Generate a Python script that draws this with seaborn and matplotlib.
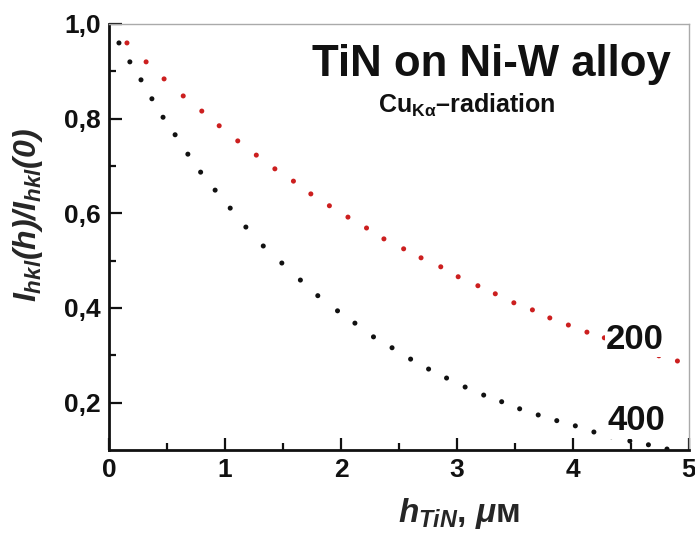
import numpy as np
import pandas as pd
import matplotlib
matplotlib.use("Agg")
import matplotlib.pyplot as plt
import seaborn as sns

# Relative intensity of TiN reflections versus coating thickness
h_200 = [0.155, 0.32, 0.475, 0.64, 0.80, 0.95, 1.11, 1.27, 1.43, 1.59, 1.74, 1.90,
         2.06, 2.22, 2.37, 2.54, 2.69, 2.86, 3.01, 3.18, 3.33, 3.49, 3.65, 3.80,
         3.96, 4.12, 4.27, 4.43, 4.59, 4.74, 4.90]
i_200 = [0.960, 0.920, 0.884, 0.848, 0.816, 0.785, 0.753, 0.723, 0.694, 0.668, 0.641, 0.616,
         0.592, 0.569, 0.546, 0.525, 0.506, 0.487, 0.466, 0.447, 0.430, 0.411, 0.396, 0.379,
         0.364, 0.349, 0.337, 0.324, 0.311, 0.299, 0.288]

h_400 = [0.086, 0.18, 0.276, 0.37, 0.466, 0.57, 0.68, 0.79, 0.915, 1.045, 1.18, 1.33,
         1.49, 1.65, 1.80, 1.97, 2.12, 2.28, 2.44, 2.60, 2.755, 2.91, 3.07, 3.23,
         3.385, 3.54, 3.70, 3.86, 4.02, 4.18, 4.33, 4.49, 4.65, 4.81]
i_400 = [0.960, 0.920, 0.882, 0.842, 0.803, 0.766, 0.725, 0.687, 0.649, 0.611, 0.571, 0.531,
         0.495, 0.459, 0.426, 0.394, 0.368, 0.339, 0.316, 0.292, 0.271, 0.252, 0.233, 0.216,
         0.202, 0.187, 0.174, 0.162, 0.151, 0.138, 0.128, 0.119, 0.111, 0.102]

x_ticks = [0, 1, 2, 3, 4, 5]
y_ticks = [0.2, 0.4, 0.6, 0.8, 1.0]
y_ticklabels = ["0,2", "0,4", "0,6", "0,8", "1,0"]

df = pd.concat([
    pd.DataFrame({"h": h_200, "I": i_200, "hkl": "200"}),
    pd.DataFrame({"h": h_400, "I": i_400, "hkl": "400"}),
])

sns.set_theme(style="white")
plt.rcParams["font.family"] = ["Liberation Sans", "DejaVu Sans"]
plt.rcParams["mathtext.fontset"] = "custom"
plt.rcParams["mathtext.it"] = "Liberation Sans:italic:bold"
plt.rcParams["mathtext.rm"] = "Liberation Sans:italic:bold"
plt.rcParams["mathtext.bf"] = "Liberation Sans:bold"

fig = plt.figure(figsize=(6.95, 5.38), dpi=100)
ax = fig.add_axes([0.1568, 0.1636, 0.9914 - 0.1568, 0.9554 - 0.1636])

sns.scatterplot(data=df, x="h", y="I", hue="hkl",
                palette={"200": "#cc1f1f", "400": "#111111"},
                s=13, marker="o", linewidth=0, legend=False, ax=ax, zorder=2)

ax.set_xlim(0, 5)
ax.set_ylim(0.1, 1.0)
ax.set_xticks(x_ticks)
ax.set_xticklabels([str(v) for v in x_ticks])
ax.set_yticks(y_ticks)
ax.set_yticklabels(y_ticklabels)
ax.set_xticks(np.arange(0.5, 5, 1.0), minor=True)
ax.set_yticks([0.3, 0.5, 0.7, 0.9], minor=True)

ax.tick_params(axis="both", which="major", direction="in", length=9, width=1.6,
               labelsize=19, pad=6, colors="#111111")
ax.tick_params(axis="both", which="minor", direction="in", length=5, width=1.6,
               colors="#111111")
ax.tick_params(axis="x", which="both", top=False, bottom=True)
ax.tick_params(axis="y", which="both", left=True, right=False)
for lab in ax.get_xticklabels() + ax.get_yticklabels():
    lab.set_fontweight("bold")

for side in ("left", "bottom"):
    ax.spines[side].set_color("#111111")
    ax.spines[side].set_linewidth(2.0)
for side in ("top", "right"):
    ax.spines[side].set_color("#aaaaaa")
    ax.spines[side].set_linewidth(1.0)

ax.set_xlabel(r"$h_{TiN}$, $\mu$м", fontsize=24, fontweight="bold", labelpad=10)
ax.xaxis.label.set_x(0.603)
ax.set_ylabel(r"$I_{hkl}(h)/I_{hkl}(0)$", fontsize=23)
ax.yaxis.set_label_coords(-0.11, 0.551)

ax.text(0.968, 0.905, "TiN on Ni-W alloy", transform=ax.transAxes,
        ha="right", va="center", fontsize=31.5, fontweight="bold", color="#111111")
ax.text(0.464, 0.81, r"Cu$_{\mathbf{K\alpha}}$–radiation", transform=ax.transAxes,
        ha="left", va="center", fontsize=18, fontweight="bold", color="#111111")

box = dict(facecolor="white", edgecolor="none", pad=1)
ax.text(4.535, 0.334, "200", ha="center", va="center", fontsize=25,
        fontweight="bold", color="#111111", bbox=box, zorder=3)
ax.text(4.545, 0.162, "400", ha="center", va="center", fontsize=25,
        fontweight="bold", color="#111111", bbox=box, zorder=3)

fig.savefig("out.png", dpi=100)
